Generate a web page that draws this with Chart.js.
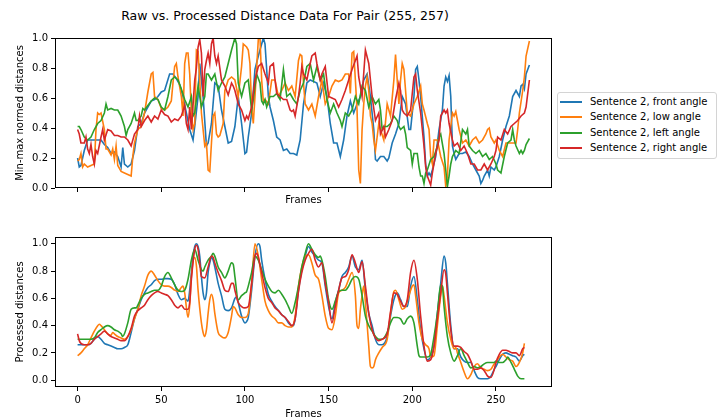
<!DOCTYPE html>
<html>
<head>
<meta charset="utf-8">
<script src="https://cdn.jsdelivr.net/npm/chart.js@4.4.0/dist/chart.umd.min.js"></script>
<style>
body{margin:0;background:#fff;font-family:"DejaVu Sans",sans-serif;}
#wrap{position:relative;width:727px;height:418px;overflow:hidden;}
canvas{position:absolute;left:0;}
#title{position:absolute;left:0;width:570px;top:8px;text-align:center;font-size:12.5px;color:#000;}
#legend{position:absolute;left:557px;top:92px;width:160px;height:67px;border:1px solid #d4d4d4;border-radius:3px;box-sizing:border-box;font-size:10px;background:#fff;}
.row{position:absolute;left:2px;height:14px;line-height:14px;white-space:nowrap;color:#000;}
.ln{display:inline-block;width:22px;height:0;border-top:2px solid;vertical-align:middle;margin-right:8px;}
</style>
</head>
<body>
<div id="wrap">
  <div id="title">Raw vs. Processed Distance Data For Pair (255, 257)</div>
  <canvas id="top" width="727" height="215" style="top:0"></canvas>
  <canvas id="bottom" width="727" height="203" style="top:215px"></canvas>
  <div id="legend"></div>
</div>
<script>
const seriesNames = ["Sentence 2, front angle","Sentence 2, low angle","Sentence 2, left angle","Sentence 2, right angle"];
const seriesColors = ["#1f77b4","#ff7f0e","#2ca02c","#d62728"];
const xTicks = [0,50,100,150,200,250];
const yTicks = [0,0.2,0.4,0.6,0.8,1.0];

// raw (top) [frame, value]
const rawFront = [[0,.2],[1,.14],[2,.15],[4,.25],[6,.32],[8,.32],[10,.32],[12,.32],[14,.32],[16,.29],[18,.27],[20,.23],[22,.24],[24,.21],[26,.14],[27,.27],[28,.16],[30,.14],[32,.16],[34,.25],[36,.41],[38,.43],[40,.5],[42,.54],[44,.58],[46,.59],[48,.61],[50,.64],[52,.65],[55,.76],[57,.76],[59,.73],[61,.69],[63,.61],[65,.5],[67,.39],[69,.32],[70,.41],[72,.61],[73,.83],[75,.61],[77,.28],[78,.3],[80,.43],
  [82,.7],[84,.68],[86,.52],[88,.41],[90,.3],[92,.31],[94,.41],[96,.61],[98,.43],[100,.23],[101,.24],[102,.34],[104,.5],[106,.79],[108,.88],[110,.96],[111,1.0],[112,.96],[113,.79],[114,.61],[115,.54],[117,.45],[119,.34],[121,.32],[123,.25],[125,.26],[127,.23],[129,.23],[131,.22],[133,.32],[135,.56],[137,.7],[139,.72],[141,.71],[143,.7],[145,.61],[147,.7],[149,.61],[151,.43],[153,.3],[155,.3],[157,.21],[159,.32],[161,.48],[163,.58],[165,.5],[167,.56],[169,.61],[171,.72],[173,.76],[175,.61],[177,.39],[178,.19],[179,.18],
  [181,.21],[183,.21],[185,.18],[186,.2],[188,.3],[190,.36],[192,.43],[194,.61],[196,.56],[198,.39],[199,.39],[201,.61],[202,.79],[203,.81],[204,.72],[205,.61],[207,.34],[208,.16],[209,.08],[210,.1],[211,.08],[212,.12],[214,.21],[216,.39],[218,.52],[219,.68],[220,.74],[221,.71],[222,.75],[223,.61],[224,.28],[225,.23],[226,.19],[228,.23],[230,.23],[232,.24],[234,.21],[236,.16],[238,.12],[240,.08],[241,.03],[242,.05],[243,.08],[245,.12],[246,.08],[247,.14],[249,.12],[250,.14],[252,.21],[254,.32],[256,.41],[258,.48],[260,.61],[262,.65],[263,.63],[264,.61],[265,.68],[266,.69],[267,.66],[268,.76],[270,.82]];
const rawLow = [[0,.18],[1,.19],[2,.23],[3,.14],[4,.16],[6,.14],[8,.15],[10,.16],[11,.39],[12,.5],[13,.49],[14,.5],[16,.39],[17,.26],[18,.26],[20,.22],[21,.26],[22,.19],[23,.28],[24,.15],[26,.11],[28,.1],[30,.09],[32,.08],[33,.21],[34,.3],[36,.39],[38,.41],[40,.5],[42,.64],[44,.76],[45,.77],[46,.61],[48,.59],[50,.53],[52,.52],[54,.54],[56,.58],[57,.7],[58,.81],[59,.83],[60,.74],[62,.61],[63,.48],[64,.83],[65,.9],[66,.9],[67,.76],[68,.5],[69,.39],[70,.43],[71,.92],[72,.91],[73,.72],[74,.5],[75,.39],[76,.28],[77,.3],[78,.12],[79,.11],[80,.3],[81,.48],[82,.5],[83,.36],[84,.34],
  [85,.35],[87,.43],[88,.65],[90,.72],[92,.74],[94,.72],[96,.61],[98,.81],[99,.96],[101,.94],[102,.92],[103,.83],[104,.54],[105,.43],[106,.61],[108,.99],[109,1.0],[110,.72],[111,.58],[112,.59],[114,.56],[116,.72],[118,.72],[120,.61],[122,.65],[124,.7],[126,.65],[128,.68],[130,.61],[132,.85],[133,.89],[134,.88],[135,.7],[136,.56],[138,.52],[140,.56],[142,.48],[144,.61],[146,.72],[148,.56],[150,.61],[152,.68],[154,.72],[156,.71],[158,.72],[160,.76],[162,.76],[163,.63],[164,.9],[165,.91],[166,.72],[167,.52],[168,.12],[169,.03],[170,.39],[171,.56],[172,.68],[173,.74],[174,.65],[175,.48],[176,.43],[177,.32],[178,.25],[180,.43],
  [181,.39],[183,.32],[185,.56],[187,.48],[189,.72],[190,.89],[191,.72],[192,.56],[193,.72],[194,.83],[195,.79],[196,.65],[197,.5],[199,.48],[201,.56],[203,.61],[205,.68],[206,.56],[207,.52],[209,.43],[210,.39],[211,.21],[212,.16],[213,.32],[215,.32],[217,.21],[219,.14],[220,.01],[221,.08],[222,.32],[224,.5],[225,.48],[226,.51],[227,.45],[228,.39],[230,.3],[232,.32],[234,.28],[236,.32],[238,.34],[240,.3],[242,.32],[244,.36],[245,.39],[246,.4],[247,.34],[249,.3],[250,.32],[252,.25],[254,.21],[256,.3],[258,.3],[260,.3],[262,.3],[263,.39],[264,.5],[266,.65],[267,.74],[268,.88],[270,.98]];
const rawLeft = [[0,.41],[1,.41],[2,.39],[4,.34],[6,.32],[8,.34],[10,.39],[12,.43],[14,.45],[16,.5],[17,.56],[18,.52],[20,.53],[22,.52],[24,.52],[25,.5],[26,.48],[28,.41],[29,.35],[30,.39],[32,.43],[34,.5],[35,.45],[36,.45],[38,.48],[39,.53],[40,.52],[42,.55],[44,.58],[46,.6],[48,.59],[50,.54],[52,.52],[54,.61],[56,.72],[58,.74],[60,.72],[62,.66],[64,.59],[66,.54],[68,.61],[69,.48],[70,.5],[72,.68],[74,.54],[76,.61],[77,.76],[78,.76],[80,.72],
  [82,.76],[84,.65],[86,.7],[88,.74],[90,.83],[92,.92],[94,1.0],[95,.96],[96,.7],[98,.61],[100,.7],[102,.72],[104,.52],[105,.59],[107,.76],[109,.7],[110,.58],[111,.56],[112,.59],[113,.54],[115,.61],[117,.61],[119,.63],[121,.59],[123,.79],[125,.61],[127,.63],[129,.59],[131,.56],[133,.65],[135,.7],[137,.81],[139,.83],[141,.72],[143,.81],[145,.72],[147,.76],[149,.59],[151,.5],[153,.56],[155,.5],[157,.45],[158,.41],[160,.5],[162,.48],[164,.52],[166,.61],[168,.56],[170,.68],[172,.65],[174,.54],[176,.61],[178,.56],[180,.59],
  [181,.52],[182,.39],[183,.41],[185,.41],[187,.43],[189,.48],[191,.45],[192,.41],[193,.39],[195,.41],[196,.36],[197,.27],[199,.25],[200,.16],[201,.23],[203,.23],[204,.14],[205,.08],[206,.08],[207,.03],[208,.1],[209,.12],[211,.19],[213,.21],[215,.28],[216,.34],[217,.36],[219,.23],[220,.12],[221,.01],[222,.08],[223,.16],[224,.21],[226,.25],[228,.23],[230,.39],[232,.36],[233,.39],[234,.28],[236,.25],[238,.23],[240,.25],[242,.21],[244,.23],[246,.19],[248,.21],[250,.16],[251,.12],[253,.1],[255,.21],[257,.3],[259,.32],[260,.39],[261,.32],[262,.28],[264,.23],[265,.25],[266,.23],[267,.25],[268,.29],[270,.33]];
const rawRight = [[0,.39],[1,.36],[2,.3],[4,.3],[5,.34],[6,.26],[7,.23],[8,.29],[9,.21],[10,.16],[11,.25],[12,.23],[14,.34],[15,.39],[16,.32],[18,.39],[20,.38],[22,.35],[24,.35],[26,.34],[28,.34],[30,.32],[32,.28],[34,.36],[36,.39],[37,.48],[38,.41],[40,.45],[42,.48],[44,.44],[46,.48],[48,.46],[50,.52],[52,.49],[54,.48],[56,.44],[58,.46],[60,.45],[62,.48],[64,.55],[65,.43],[66,.39],[67,.54],[68,.39],[70,.72],[71,.8],[72,.94],[73,.99],[74,.9],[75,.61],[76,.79],[77,.85],[78,.9],[79,.83],[80,.96],[81,1.0],
  [82,.88],[83,.83],[84,.88],[85,.8],[86,.72],[88,.68],[90,.62],[92,.7],[93,.68],[94,.65],[96,.56],[98,.52],[100,.45],[101,.48],[102,.46],[104,.54],[106,.72],[108,.81],[110,.83],[112,.76],[114,.7],[115,.81],[117,.83],[118,.72],[119,.63],[121,.61],[123,.59],[125,.59],[127,.52],[128,.51],[129,.52],[130,.48],[132,.61],[133,.7],[134,.81],[135,.76],[137,.72],[139,.83],[140,.88],[142,.9],[143,.83],[145,.72],[146,.76],[148,.81],[150,.61],[152,.6],[154,.59],[156,.54],[158,.59],[160,.65],[162,.72],[164,.79],[166,.85],[167,.88],[168,.74],[170,.61],[172,.92],[174,.83],[176,.61],[178,.45],[180,.5],
  [181,.36],[183,.41],[184,.34],[186,.39],[188,.45],[190,.59],[192,.7],[193,.65],[194,.52],[195,.5],[197,.48],[199,.52],[200,.63],[201,.74],[202,.76],[203,.65],[205,.5],[207,.28],[208,.14],[209,.08],[210,.05],[211,.02],[212,.1],[214,.23],[216,.32],[217,.48],[219,.52],[220,.5],[221,.52],[222,.43],[224,.32],[225,.28],[227,.3],[229,.25],[231,.28],[233,.23],[235,.16],[237,.16],[239,.12],[241,.12],[243,.16],[245,.12],[247,.16],[249,.21],[250,.25],[251,.34],[253,.32],[255,.39],[257,.36],[259,.41],[261,.43],[263,.45],[265,.48],[267,.5],[268,.54],[270,.72]];

// processed (bottom) [frame, value]
const procFront = [[0,.26],[2,.26],[4,.26],[6,.26],[8,.27],[10,.3],[12,.32],[14,.3],[16,.27],[18,.26],[20,.25],[22,.24],[24,.23],[26,.23],[28,.24],[30,.26],[32,.35],[34,.45],[36,.52],[38,.59],[40,.64],[42,.68],[44,.7],[46,.73],[48,.74],[50,.74],[52,.745],[54,.745],[56,.74],[58,.7],[60,.63],[62,.59],[64,.6],[66,.58],[67,.66],[68,.79],[69,.91],[70,.98],[71,1.0],[72,.98],[73,.91],[74,.76],[75,.64],[76,.59],[77,.64],[78,.79],[79,.86],[80,.9],[81,.88],[82,.83],[84,.71],[86,.62],[88,.52],
  [90,.51],[92,.53],[94,.6],[95,.61],[96,.57],[98,.47],[100,.42],[101,.43],[102,.46],[104,.66],[106,.91],[108,1.0],[109,.98],[110,.88],[112,.74],[114,.63],[116,.58],[118,.54],[120,.51],[122,.48],[124,.46],[126,.42],[128,.4],[129,.4],[130,.45],[132,.66],[134,.81],[136,.91],[138,.98],[140,.94],[142,.91],[144,.88],[146,.86],[148,.69],[150,.54],[152,.45],[154,.57],[156,.66],[158,.76],[160,.79],[162,.83],[164,.91],[166,.83],[168,.81],[170,.88],[172,.66],[174,.49],[176,.4],[178,.3],[180,.26],[182,.26],
  [185,.32],[187,.47],[189,.59],[191,.64],[193,.59],[195,.54],[197,.54],[199,.69],[201,.76],[203,.59],[205,.37],[207,.23],[209,.15],[211,.17],[213,.25],[215,.49],[217,.71],[219,.91],[220,.86],[221,.71],[223,.4],[225,.23],[227,.23],[229,.17],[231,.14],[233,.13],[235,.13],[237,.07],[239,.02],[241,.01],[243,.01],[245,.01],[247,.03],[249,.08],[250,.1],[252,.15],[254,.19],[256,.2],[258,.19],[260,.18],[262,.17],[264,.14],[266,.18],[267,.19]];
const procLow = [[0,.18],[2,.2],[4,.23],[6,.26],[8,.31],[10,.36],[12,.4],[13,.41],[14,.4],[16,.37],[18,.34],[20,.33],[21,.35],[22,.34],[24,.32],[26,.31],[28,.3],[30,.32],[32,.37],[34,.45],[36,.52],[38,.62],[40,.69],[42,.77],[44,.8],[46,.77],[48,.73],[50,.7],[52,.69],[54,.69],[56,.68],[58,.66],[60,.65],[62,.68],[63,.69],[64,.64],[66,.46],[67,.55],[68,.76],[70,.9],[71,.84],[72,.66],[74,.42],[75,.35],[76,.32],[77,.37],[78,.49],[79,.59],[80,.63],[81,.59],[82,.49],[84,.35],[86,.32],[88,.31],
  [90,.35],[92,.47],[93,.54],[94,.53],[96,.48],[98,.46],[100,.46],[102,.49],[104,.71],[106,1.0],[108,.91],[110,.74],[112,.58],[114,.51],[116,.47],[118,.45],[120,.42],[122,.42],[124,.4],[126,.39],[128,.39],[130,.47],[132,.69],[134,.83],[136,.91],[138,.92],[140,.86],[142,.77],[144,.74],[146,.62],[148,.47],[150,.38],[152,.37],[154,.47],[156,.64],[158,.66],[160,.68],[162,.74],[164,.79],[166,.62],[167,.4],[168,.38],[169,.52],[170,.62],[171,.69],[172,.57],[174,.25],[175,.1],[176,.09],[177,.1],[178,.15],[180,.2],[182,.24],
  [185,.3],[187,.49],[189,.65],[190,.66],[192,.59],[194,.52],[196,.54],[198,.62],[200,.69],[201,.7],[202,.62],[204,.42],[206,.3],[208,.26],[210,.23],[211,.17],[213,.18],[215,.4],[217,.62],[218,.69],[219,.62],[221,.42],[223,.3],[225,.23],[226,.24],[227,.2],[229,.13],[231,.06],[233,.01],[235,.04],[237,.1],[239,.12],[241,.09],[243,.08],[245,.07],[247,.08],[249,.12],[250,.13],[252,.17],[254,.19],[256,.17],[258,.15],[260,.14],[262,.1],[264,.13],[266,.2],[267,.27]];
const procLeft = [[0,.3],[2,.3],[4,.3],[6,.3],[8,.3],[10,.31],[12,.35],[14,.37],[16,.39],[18,.4],[20,.39],[22,.37],[24,.36],[26,.34],[27,.32],[28,.34],[30,.42],[32,.52],[34,.53],[35,.53],[36,.55],[38,.6],[40,.63],[42,.64],[44,.65],[46,.66],[48,.66],[50,.69],[52,.76],[54,.79],[56,.75],[58,.7],[60,.66],[62,.65],[64,.66],[66,.74],[68,.88],[70,.96],[72,.88],[74,.81],[75,.8],[76,.83],[78,.88],[80,.91],[81,.93],[82,.91],[84,.83],[86,.79],[88,.75],
  [90,.8],[92,.86],[93,.85],[94,.76],[96,.59],[98,.62],[100,.64],[101,.65],[102,.69],[104,.79],[106,.91],[108,.88],[110,.81],[112,.74],[114,.69],[116,.65],[118,.64],[120,.66],[122,.63],[124,.59],[126,.54],[128,.49],[130,.57],[132,.69],[134,.83],[136,.93],[138,1.0],[140,.96],[142,.92],[144,.9],[145,.91],[146,.88],[148,.76],[150,.59],[152,.52],[154,.58],[156,.65],[158,.66],[160,.66],[162,.69],[164,.74],[166,.76],[168,.74],[170,.62],[172,.47],[174,.4],[176,.36],[178,.32],[180,.3],[182,.3],
  [185,.35],[187,.42],[189,.46],[191,.46],[193,.45],[195,.41],[197,.45],[199,.47],[201,.42],[203,.25],[204,.18],[205,.17],[207,.17],[209,.17],[211,.19],[213,.32],[215,.49],[217,.7],[218,.69],[219,.54],[221,.32],[223,.2],[225,.14],[227,.18],[229,.23],[231,.18],[233,.13],[235,.09],[237,.1],[239,.09],[241,.1],[243,.12],[245,.13],[247,.13],[249,.13],[250,.14],[252,.13],[254,.13],[256,.15],[257,.17],[259,.13],[261,.08],[263,.03],[265,.01],[267,.01]];
const procRight = [[0,.34],[1,.29],[2,.27],[4,.26],[6,.26],[8,.27],[10,.3],[12,.32],[14,.34],[16,.36],[18,.34],[20,.32],[22,.31],[24,.3],[26,.29],[28,.29],[30,.32],[32,.38],[34,.47],[36,.51],[38,.53],[40,.55],[42,.59],[44,.62],[46,.64],[48,.65],[50,.64],[52,.63],[54,.62],[56,.59],[58,.55],[60,.53],[62,.55],[64,.52],[66,.52],[67,.57],[68,.74],[70,.96],[71,.99],[72,.96],[73,.86],[74,.76],[76,.75],[78,.83],[80,.91],[81,.9],[82,.86],[84,.79],[86,.73],[88,.66],
  [90,.65],[92,.71],[93,.71],[94,.66],[96,.57],[98,.54],[100,.53],[102,.54],[104,.71],[106,.91],[107,.93],[108,.9],[110,.79],[112,.68],[114,.6],[116,.57],[118,.53],[120,.51],[122,.48],[124,.46],[126,.43],[128,.4],[130,.45],[132,.65],[134,.79],[136,.88],[138,.93],[140,.96],[142,.88],[144,.83],[146,.86],[148,.71],[150,.57],[152,.42],[154,.54],[156,.66],[158,.75],[160,.76],[162,.81],[164,.92],[166,.86],[168,.79],[170,.87],[172,.69],[174,.49],[176,.37],[178,.31],[180,.29],[182,.3],
  [185,.34],[187,.5],[189,.64],[191,.63],[193,.58],[195,.54],[197,.59],[199,.79],[201,.88],[203,.74],[205,.47],[207,.25],[209,.14],[211,.15],[213,.25],[215,.45],[217,.64],[219,.81],[220,.78],[221,.64],[223,.37],[225,.25],[227,.25],[229,.24],[231,.21],[233,.19],[235,.14],[237,.08],[239,.08],[241,.09],[243,.07],[245,.03],[247,.02],[249,.08],[250,.13],[252,.19],[254,.22],[256,.22],[258,.21],[260,.2],[262,.2],[264,.18],[266,.23],[267,.24]];

const rawSeries = [rawFront, rawLow, rawLeft, rawRight];
const procSeries = [procFront, procLow, procLeft, procRight];

const FONT = "'DejaVu Sans', sans-serif";

const boxPlugin = {
  id: "box",
  afterDraw(chart) {
    const a = chart.chartArea, ctx = chart.ctx;
    ctx.save();
    ctx.strokeStyle = "#000";
    ctx.lineWidth = 1;
    ctx.strokeRect(Math.round(a.left) + 0.5, Math.round(a.top) + 0.5, Math.round(a.right - a.left) - 1, Math.round(a.bottom - a.top) - 1);
    ctx.restore();
  }
};

function makeDatasets(list, smooth) {
  return list.map((pts, i) => ({
    label: seriesNames[i],
    data: pts.map(p => ({ x: p[0], y: p[1] })),
    borderColor: seriesColors[i],
    backgroundColor: seriesColors[i],
    borderWidth: 1.6,
    pointRadius: 0,
    tension: 0,
    cubicInterpolationMode: smooth ? "monotone" : "default",
    order: 3 - i
  }));
}

function makeChart(id, datasets, o) {
  return new Chart(document.getElementById(id), {
    type: "line",
    data: { datasets },
    plugins: [boxPlugin],
    options: {
      responsive: false,
      animation: false,
      layout: { padding: { left: 0, top: o.padTop, right: 175, bottom: o.padBottom } },
      plugins: { legend: { display: false }, tooltip: { enabled: false } },
      scales: {
        x: {
          type: "linear", min: -13.5, max: 283.5,
          afterBuildTicks: s => { s.ticks = xTicks.map(v => ({ value: v })); },
          afterFit: s => { s.height = o.xHeight; },
          grid: { display: true, drawOnChartArea: false, drawTicks: true, tickLength: 4, color: "#000" },
          border: { display: false },
          ticks: { display: o.xLabels, color: "#000", font: { family: FONT, size: 10 }, padding: 3, maxRotation: 0 },
          title: { display: true, text: "Frames", color: "#000", font: { family: FONT, size: 10 }, padding: { top: 0, bottom: o.xTitlePad } }
        },
        y: {
          type: "linear", min: o.yMin, max: o.yMax,
          afterBuildTicks: s => { s.ticks = yTicks.map(v => ({ value: v })); },
          afterFit: s => { s.width = 55; },
          grid: { display: true, drawOnChartArea: false, drawTicks: true, tickLength: 4, color: "#000" },
          border: { display: false },
          ticks: { color: "#000", font: { family: FONT, size: 10 }, padding: 3, callback: v => v.toFixed(1) },
          title: { display: true, text: o.yTitle, color: "#000", font: { family: FONT, size: 10 }, padding: { top: 14, bottom: 0 } }
        }
      }
    }
  });
}

makeChart("top", makeDatasets(rawSeries, false), {
  padTop: 38, padBottom: 3, xHeight: 24, xLabels: false, xTitlePad: 6,
  yMin: 0, yMax: 1, yTitle: "Min-max normed distances"
});
makeChart("bottom", makeDatasets(procSeries, true), {
  padTop: 22, padBottom: 0, xHeight: 31, xLabels: true, xTitlePad: -2,
  yMin: -0.05, yMax: 1.05, yTitle: "Processed distances"
});

const legend = document.getElementById("legend");
seriesNames.forEach((name, i) => {
  const row = document.createElement("div");
  row.className = "row";
  row.style.top = (1.5 + i * 15.6) + "px";
  row.innerHTML = `<span class="ln" style="border-color:${seriesColors[i]}"></span>${name}`;
  legend.appendChild(row);
});
</script>
</body>
</html>
